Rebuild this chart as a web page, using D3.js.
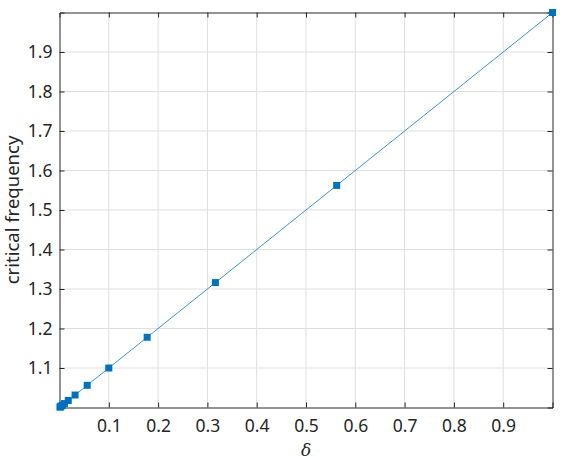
<!DOCTYPE html>
<html>
<head>
  <meta charset="utf-8">
  <script src="https://cdn.jsdelivr.net/npm/d3@7"></script>
  <style>
    body { margin: 0; background: #fff; }
    text { font-family: "Noto Sans", "Open Sans", sans-serif; fill: #262626; }
  </style>
</head>
<body>
  <div id="chart"></div>
  <script>
    // delta values (logspace, 4 per decade) and critical frequency
    const delta = [1, 0.5623, 0.3162, 0.1778, 0.1, 0.0562, 0.0316, 0.0178, 0.01, 0.0056, 0.0032, 0.0018, 0.001];
    const freq = [2.0, 1.5623, 1.3162, 1.1778, 1.1, 1.0562, 1.0316, 1.0178, 1.01, 1.0056, 1.0032, 1.0018, 1.001];
    const xTicks = [0.1, 0.2, 0.3, 0.4, 0.5, 0.6, 0.7, 0.8, 0.9];
    const yTicks = [1.1, 1.2, 1.3, 1.4, 1.5, 1.6, 1.7, 1.8, 1.9];

    const w = 576, h = 461;
    const m = { left: 59.5, right: 23.5, top: 12.5, bottom: 53.5 };

    const svg = d3.select("#chart").append("svg")
      .attr("width", w).attr("height", h);

    const x = d3.scaleLinear().domain([0, 1]).range([m.left, w - m.right]);
    const y = d3.scaleLinear().domain([1, 2]).range([h - m.bottom, m.top]);

    // grid
    svg.append("g").selectAll("line").data(xTicks).enter().append("line")
      .attr("x1", d => x(d)).attr("x2", d => x(d))
      .attr("y1", y(1)).attr("y2", y(2))
      .attr("stroke", "#dfdfdf").attr("stroke-width", 1);
    svg.append("g").selectAll("line").data(yTicks).enter().append("line")
      .attr("y1", d => y(d)).attr("y2", d => y(d))
      .attr("x1", x(0)).attr("x2", x(1))
      .attr("stroke", "#dfdfdf").attr("stroke-width", 1);

    // axes with inward ticks
    const tl = 5;
    svg.append("g").attr("transform", `translate(0,${y(1)})`)
      .call(d3.axisBottom(x).tickValues(xTicks).tickSize(-tl).tickPadding(12.5).tickFormat(d3.format(".1f")))
      .call(g => g.selectAll("text").style("font-size", "17.5px"));
    svg.append("g").attr("transform", `translate(0,${y(2)})`)
      .call(d3.axisTop(x).tickValues(xTicks).tickSize(-tl).tickFormat(""));
    svg.append("g").attr("transform", `translate(${x(0)},0)`)
      .call(d3.axisLeft(y).tickValues(yTicks).tickSize(-tl).tickPadding(7).tickFormat(d3.format(".1f")))
      .call(g => g.selectAll("text").style("font-size", "17.5px"));
    svg.append("g").attr("transform", `translate(${x(1)},0)`)
      .call(d3.axisRight(y).tickValues(yTicks).tickSize(-tl).tickFormat(""));
    svg.selectAll(".domain").attr("stroke", "#262626");
    svg.selectAll(".tick line").attr("stroke", "#262626");

    // line + markers
    const pts = delta.map((d, i) => [d, freq[i]]);
    svg.append("path").datum(pts)
      .attr("d", d3.line().x(d => x(d[0])).y(d => y(d[1])))
      .attr("fill", "none").attr("stroke", "#0072BD").attr("stroke-width", 0.75);
    const s = 7;
    svg.append("g").selectAll("rect").data(pts).enter().append("rect")
      .attr("x", d => x(d[0]) - s / 2).attr("y", d => y(d[1]) - s / 2)
      .attr("width", s).attr("height", s).attr("fill", "#0072BD");

    // labels
    svg.append("text")
      .attr("transform", `translate(19,${(y(1) + y(2)) / 2}) rotate(-90)`)
      .attr("text-anchor", "middle").style("font-size", "18.5px")
      .text("critical frequency");
    svg.append("text")
      .attr("x", x(0.5)).attr("y", 456)
      .attr("text-anchor", "middle")
      .style("font-family", "'DejaVu Serif', serif").style("font-style", "italic")
      .style("font-size", "17px")
      .text("δ");
  </script>
</body>
</html>
